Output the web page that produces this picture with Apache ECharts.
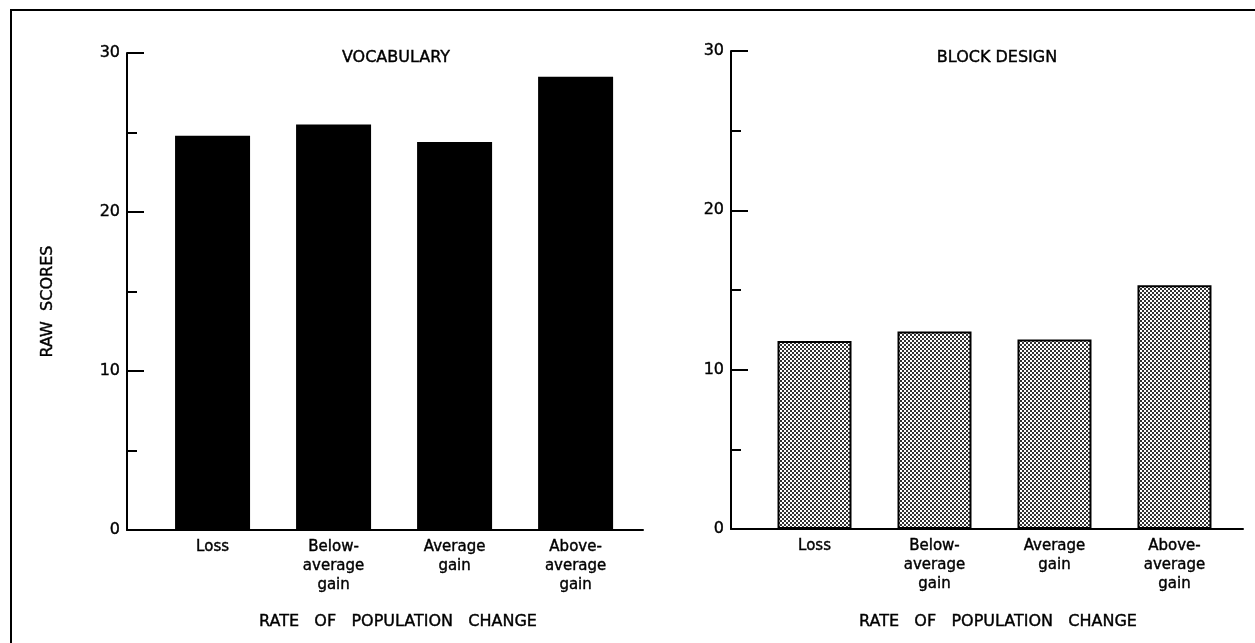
<!DOCTYPE html>
<html>
<head>
<meta charset="utf-8">
<script src="https://cdn.jsdelivr.net/npm/echarts@6/dist/echarts.min.js"></script>
<style>
  html, body { margin: 0; padding: 0; background: #fff; }
  #chart { width: 1255px; height: 643px; }
</style>
</head>
<body>
<div id="chart"></div>
<script>
// data
const categories = ["Loss", "Below-\naverage\ngain", "Average\ngain", "Above-\naverage\ngain"];
const vocabulary = [24.8, 25.5, 24.4, 28.5];
const blockDesign = [11.8, 12.4, 11.9, 15.3];
const yTicks = [0, 10, 20, 30];

const font = "DejaVu Sans";
const ink = "#000";
// a thin outline on the text to get closer to the heavy lettering
const heavy = { textBorderColor: ink, textBorderWidth: 0.4 };

// dotted fill for the block design bars
const makeDots = () => {
	const c = document.createElement("canvas");
	c.width = 4;
	c.height = 4;
	const ctx = c.getContext("2d");
	ctx.fillStyle = "#fff";
	ctx.fillRect(0, 0, 4, 4);
	ctx.fillStyle = "#333";
	ctx.fillRect(0, 0, 2, 2);
	ctx.fillRect(2, 2, 2, 2);
	return c;
};

const toPoints = (arr) => arr.map((v, i) => [i + 1, v]);

const xAxisFor = (gridIndex, min, max) => ({
	type: "value",
	gridIndex: gridIndex,
	min: min,
	max: max,
	axisLine: { show: true, lineStyle: { color: ink, width: 2 } },
	axisTick: { show: false },
	splitLine: { show: false },
	axisLabel: Object.assign({
		customValues: [1, 2, 3, 4],
		formatter: (v) => categories[Math.round(v) - 1],
		fontFamily: font,
		fontSize: 15,
		lineHeight: 19,
		color: ink,
		margin: 8,
		verticalAlign: "top",
	}, heavy),
});

const yAxisFor = (gridIndex, name) => ({
	type: "value",
	gridIndex: gridIndex,
	min: yTicks[0],
	max: yTicks[yTicks.length - 1],
	interval: 10,
	name: name,
	nameLocation: "middle",
	nameGap: 71,
	nameTextStyle: Object.assign({ fontFamily: font, fontSize: 16, color: ink, padding: [0, 20, 0, 0] }, heavy),
	axisLine: { show: true, lineStyle: { color: ink, width: 2 } },
	axisTick: { show: true, inside: true, length: 17, lineStyle: { color: ink, width: 2 } },
	minorTick: { show: true, splitNumber: 2, length: 10, lineStyle: { color: ink, width: 2 } },
	splitLine: { show: false },
	minorSplitLine: { show: false },
	axisLabel: Object.assign({ fontFamily: font, fontSize: 16, color: ink, margin: 7 }, heavy),
});

const titleStyle = (size) => Object.assign({ fontFamily: font, fontSize: size, fontWeight: "normal", color: ink }, heavy);

const chart = echarts.init(document.getElementById("chart"));
const option = {
	backgroundColor: "#fff",
	animation: false,
	title: [
		{ text: "VOCABULARY", left: 391, top: 45, textAlign: "center", textStyle: titleStyle(16) },
		{ text: "BLOCK DESIGN", left: 992, top: 45, textAlign: "center", textStyle: titleStyle(16) },
		{ text: "RATE   OF   POPULATION   CHANGE", left: 393, top: 609, textAlign: "center", textStyle: titleStyle(16) },
		{ text: "RATE   OF   POPULATION   CHANGE", left: 993, top: 609, textAlign: "center", textStyle: titleStyle(16) },
	],
	grid: [
		{ left: 127, top: 53, width: 516, height: 477 },
		{ left: 731, top: 51, width: 512, height: 478 },
	],
	xAxis: [xAxisFor(0, 0.293, 4.557), xAxisFor(1, 0.304, 4.571)],
	yAxis: [yAxisFor(0, "RAW  SCORES"), yAxisFor(1, "")],
	series: [
		{
			type: "bar",
			xAxisIndex: 0,
			yAxisIndex: 0,
			barWidth: 75,
			data: toPoints(vocabulary),
			itemStyle: { color: "#000" },
		},
		{
			type: "bar",
			xAxisIndex: 1,
			yAxisIndex: 1,
			barWidth: 74,
			data: toPoints(blockDesign),
			itemStyle: {
				color: { image: makeDots(), repeat: "repeat" },
				borderColor: "#000",
				borderWidth: 2,
			},
		},
	],
	graphic: [
		{
			type: "rect",
			silent: true,
			shape: { x: 11, y: 10, width: 1300, height: 700 },
			style: { fill: "none", stroke: "#000", lineWidth: 2 },
		},
	],
};
chart.setOption(option);
</script>
</body>
</html>
